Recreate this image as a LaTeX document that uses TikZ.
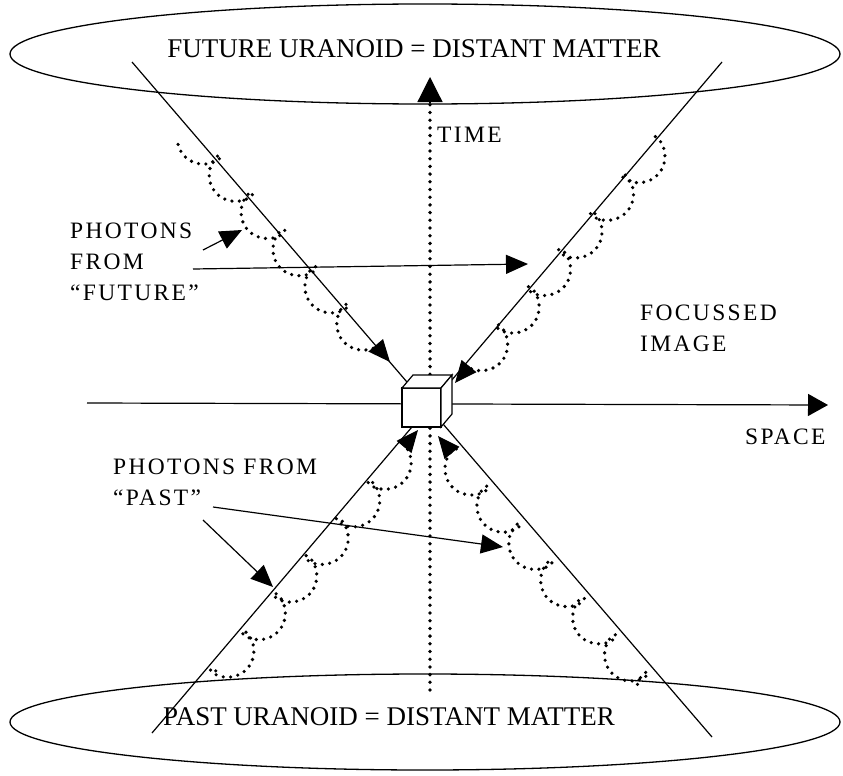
\documentclass[tikz,border=0pt]{standalone}
\usepackage{fontspec}
\setmainfont{Liberation Serif}
\newfontfamily\lblfont[LetterSpace=10]{Liberation Serif}
\usetikzlibrary{arrows.meta}

\tikzset{
  cone/.style={line width=1.2pt},
  dots/.style={line width=3.8pt, line cap=round, dash pattern=on 0pt off 7.7pt},
  photon/.style={line width=3.6pt, line cap=round, dash pattern=on 0pt off 7.4pt},
  tip/.style={-{Triangle[length=22pt,width=19pt]}, line width=1.2pt},
  label/.style={font=\lblfont\fontsize{23.5}{31}\selectfont, align=left, inner sep=0pt},
  uranoid/.style={font=\fontsize{27}{30}\selectfont, inner sep=0pt},
}

\begin{document}
\begin{tikzpicture}[x=1pt, y=-1pt]
  \useasboundingbox (0,0) rectangle (843,776);
  % the two uranoids
  \draw[line width=1.3pt] (425,54) ellipse [x radius=415, y radius=50];
  \draw[line width=1.3pt] (425,722) ellipse [x radius=415, y radius=48];
  \node[uranoid] (future) at (414,49) {FUTURE URANOID = DISTANT MATTER};
  \node[uranoid] (past) at (389,717) {PAST URANOID = DISTANT MATTER};
  % light cone
  \coordinate (Atop) at (132,62);
  \coordinate (Abot) at (712,737);
  \coordinate (Btop) at (722,62);
  \coordinate (Bbot) at (152,733);
  \draw[cone] (Atop) -- (Abot);
  \draw[cone] (Btop) -- (Bbot);
  % axes
  \coordinate (sL) at (87,403);
  \coordinate (sR) at (828,405);
  \draw[cone, -{Triangle[length=20pt,width=22pt]}] (sL) -- (sR);
  \coordinate (tB) at (430,690);
  \coordinate (tH) at (430,102);
  \coordinate (tT) at (430,77);
  \draw[dots] (tB) -- (tH);
  \draw[cone, -{Triangle[length=25pt,width=25pt]}] (tH) -- (tT);
  \node[label, anchor=west] (time) at (437,135) {TIME};
  \node[label, anchor=west] (space) at (745,437) {SPACE};
  % photons: base point, travel direction, bulge side, length in radians
  \foreach \bx/\by/\ux/\uy/\vx/\vy/\len in {
      375.7/345.3/0.651/0.759/-0.759/0.651/35.2,
      469/366/-0.642/0.767/0.767/0.642/37.2,
      404/447/0.642/-0.767/0.767/0.642/38.6,
      452/453/-0.651/-0.759/-0.759/0.651/39.4}
    \draw[photon] plot[domain=-\len:0, samples=400]
      ({\bx+\ux*(7.8*\x-11*sin(\x r))+\vx*(14*(1-cos(\x r))-6)},
       {\by+\uy*(7.8*\x-11*sin(\x r))+\vy*(14*(1-cos(\x r))-6)});
  \coordinate (B1) at (375.7,345.3);
  \coordinate (T1) at (390,362);
  \coordinate (B2) at (469,366);
  \coordinate (T2) at (455,383);
  \coordinate (B3) at (404,447);
  \coordinate (T3) at (418,430);
  \coordinate (B4) at (452,453);
  \coordinate (T4) at (438,436);
  \draw[tip] (B1) -- (T1);
  \draw[tip] (B2) -- (T2);
  \draw[tip] (B3) -- (T3);
  \draw[tip] (B4) -- (T4);
  % labels and pointers
  \node[label, anchor=west] (futlbl) at (70,262) {PHOTONS\\FROM\\“FUTURE”};
  \coordinate (f1s) at (203,250);
  \coordinate (f1e) at (242,230);
  \coordinate (f2s) at (193,269);
  \coordinate (f2e) at (528,264);
  \draw[tip] (f1s) -- (f1e);
  \draw[tip] (f2s) -- (f2e);
  \node[label, anchor=north west] (pastlbl) at (113,459) {PHOTONS FROM\\“PAST”};
  \coordinate (p1s) at (213,507);
  \coordinate (p1e) at (503,547);
  \coordinate (p2s) at (203,520);
  \coordinate (p2e) at (273,587);
  \draw[tip] (p1s) -- (p1e);
  \draw[tip] (p2s) -- (p2e);
  \node[label, anchor=west] (focus) at (640,328) {FOCUSSED\\IMAGE};
  % the observer cube
  \filldraw[fill=white, line width=1.2pt] (402,388) rectangle (441,427);
  \filldraw[fill=white, line width=1.2pt] (402,388) -- (413,375) -- (452,375) -- (441,388) -- cycle;
  \filldraw[fill=white, line width=1.2pt] (441,388) -- (452,375) -- (452,414) -- (441,427) -- cycle;
\end{tikzpicture}
\end{document}
